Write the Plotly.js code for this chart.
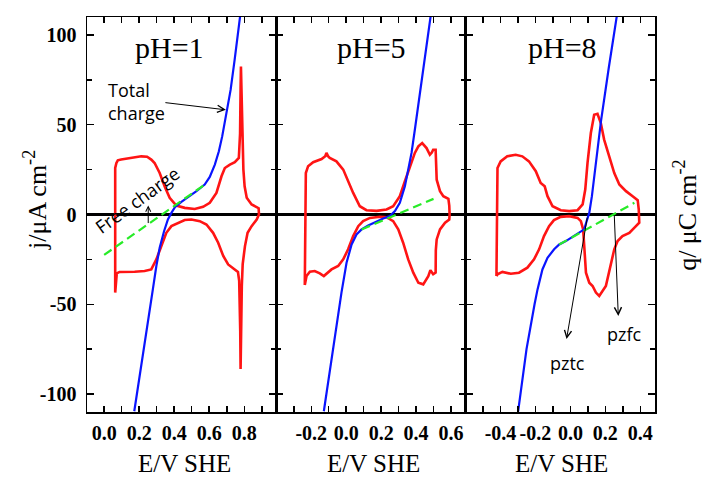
<!DOCTYPE html>
<html>
<head>
<meta charset="utf-8">
<script src="https://cdn.plot.ly/plotly-3.0.1.min.js"></script>
<style>html,body{margin:0;padding:0;background:#fff;}#chart{width:704px;height:479px;}</style>
</head>
<body>
<div id="chart"></div>
<script>
// ---------- DATA ----------
// pH = 1
const p1RedX = [0.063,0.063,0.070,0.078,0.097,0.155,0.212,0.245,0.269,0.288,0.317,0.345,0.374,0.412,0.460,0.517,0.565,0.603,0.641,0.670,0.689,0.718,0.746,0.769,0.776,0.779,0.781,0.784,0.789,0.795,0.802,0.814,0.842,0.871,0.882,0.884,
                0.880,0.871,0.842,0.819,0.804,0.791,0.786,0.782,0.779,0.777,0.775,0.771,0.764,0.746,0.708,0.680,0.651,0.622,0.584,0.546,0.498,0.460,0.422,0.384,0.355,0.326,0.298,0.269,0.231,0.174,0.116,0.088,0.072,0.066,0.063];
const p1RedY = [-43.5,26.0,28.7,30.2,30.6,31.5,32.4,32.2,30.6,28.7,23.1,15.7,9.3,5.0,3.7,3.1,4.3,6.5,12.0,21.3,25.9,27.8,29.1,31.5,45,70,82.4,70,45,25,15.7,9.3,5.6,4.3,3.5,0,
                -1.0,-2.8,-6.5,-10.2,-17.6,-27.6,-40,-65,-86.1,-65,-47,-37,-32,-30.6,-27.8,-23.1,-15.7,-10.2,-5.6,-3.7,-2.8,-3.1,-4.6,-6.5,-10.2,-17.6,-25.0,-30.6,-31.5,-31.9,-32.0,-32.0,-32.8,-38,-43.5];
const p1BlueX = [0.172,0.210,0.250,0.278,0.298,0.317,0.342,0.364,0.384,0.406,0.441,0.479,0.527,0.574,0.603,0.632,0.655,0.674,0.690,0.722,0.745,0.764,0.776];
const p1BlueY = [-109.6,-84.3,-58.3,-41.7,-28.7,-18.5,-9.3,-2.8,0.9,4.3,7.0,9.6,13.0,16.7,20.9,27.8,35.2,43.5,52.8,69.4,86.1,100.9,110.2];
const p1GreenX = [0.0,0.575];
const p1GreenY = [-22.5,16.7];

// pH = 5
const p2RedX = [-0.237,-0.233,-0.231,-0.218,-0.189,-0.141,-0.120,-0.113,-0.104,-0.094,-0.056,-0.017,0.011,0.040,0.078,0.116,0.174,0.231,0.269,0.307,0.336,0.365,0.393,0.413,0.435,0.460,0.479,0.490,0.498,0.512,0.515,0.518,0.537,0.556,0.585,0.590,0.592,
                0.590,0.566,0.537,0.518,0.513,0.512,0.498,0.482,0.470,0.441,0.413,0.384,0.355,0.326,0.298,0.269,0.231,0.193,0.136,0.097,0.069,0.040,0.011,-0.017,-0.046,-0.084,-0.113,-0.128,-0.151,-0.180,-0.208,-0.227,-0.237];
const p2RedY = [-39.3,0,23.1,26.9,29.1,30.9,32.5,34.3,32.5,31.5,29.6,25.0,18.5,12.0,4.6,2.4,2.0,2.8,4.6,10.2,18.5,26.9,34.3,38.0,39.8,37.0,33.3,34.5,36.1,36.1,28,19.4,13.0,10.2,8.7,5,0,
                -2.8,-4.6,-8.3,-13.9,-20,-32.4,-33.3,-31.0,-34.3,-38.9,-38.0,-32.4,-25.0,-15.7,-8.3,-3.7,-1.5,-1.3,-1.9,-3.7,-6.5,-12.0,-19.4,-25.0,-28.7,-30.6,-32.8,-34.3,-32.8,-31.5,-31.9,-34.3,-39.3];
const p2BlueX = [-0.128,-0.052,-0.027,0.002,0.031,0.059,0.088,0.126,0.174,0.212,0.250,0.279,0.307,0.336,0.355,0.374,0.393,0.440,0.483];
const p2BlueY = [-109.6,-58.3,-43.5,-26.9,-16.7,-11.1,-8.3,-6.1,-3.7,-2.2,-0.9,1.9,6.5,15.7,25.0,34.3,47.2,80.0,110.2];
const p2GreenX = [0.088,0.500];
const p2GreenY = [-8.3,8.7];

// pH = 8
const p3RedX = [-0.423,-0.420,-0.417,-0.399,-0.361,-0.313,-0.275,-0.237,-0.198,-0.170,-0.160,-0.147,-0.131,-0.102,-0.055,-0.007,0.041,0.070,0.085,0.098,0.117,0.136,0.155,0.174,0.193,0.222,0.251,0.280,0.318,0.356,0.385,0.391,0.394,
                0.375,0.337,0.298,0.270,0.251,0.232,0.203,0.165,0.146,0.127,0.108,0.089,0.079,0.073,0.060,0.041,-0.007,-0.055,-0.094,-0.122,-0.151,-0.179,-0.208,-0.246,-0.294,-0.341,-0.389,-0.417,-0.423];
const p3RedY = [-34.3,0,25.9,29.6,32.4,33.3,32.4,29.6,24.1,17.6,16.7,15.7,10.2,4.6,2.4,1.9,2.4,5.6,13.9,28.7,45.4,55.6,56.1,50.9,41.7,32.4,23.1,16.7,13.0,10.2,8.0,2.8,-4.6,
                -6.5,-10.2,-12.0,-14.8,-19.4,-26.9,-39.8,-45.4,-43.5,-39.8,-38.0,-32.4,-15.7,-8.3,-3.7,-1.9,-0.9,-1.3,-3.1,-6.5,-12.0,-19.4,-25.0,-29.6,-32.4,-33.0,-32.0,-33.3,-34.3];
const p3BlueX = [-0.299,-0.251,-0.205,-0.188,-0.160,-0.131,-0.093,-0.064,-0.026,0.012,0.060,0.079,0.093,0.108,0.123,0.137,0.156,0.175,0.220,0.265];
const p3BlueY = [-109.6,-75.0,-50.0,-41.7,-30.6,-24.1,-19.4,-16.7,-14.8,-12.6,-9.8,-8.3,-3.7,0.9,10.2,21.3,36.1,52.0,82.0,110.2];
const p3GreenX = [-0.064,0.366];
const p3GreenY = [-16.7,6.5];

// ticks
const p1XTicks = [0,0.2,0.4,0.6,0.8];
const p1XTickText = ['0.0','0.2','0.4','0.6','0.8'];
const p2XTicks = [-0.2,0,0.2,0.4,0.6];
const p2XTickText = ['-0.2','0.0','0.2','0.4','0.6'];
const p3XTicks = [-0.4,-0.2,0,0.2,0.4];
const p3XTickText = ['-0.4','-0.2','0.0','0.2','0.4'];
const yTicks = [-100,-50,0,50,100];
const yTickText = ['-100','-50','0','50','100'];
const panelLabels = ['pH=1','pH=5','pH=8'];

// ---------- STYLE ----------
const RED = 'rgb(255,20,20)', BLUE = 'rgb(10,20,255)', GREEN = 'rgb(40,235,40)';
const serif = 'Liberation Serif';
const sans = 'Open Sans';

function red(x,y,xa,ya){return {x:x,y:y,xaxis:xa,yaxis:ya,mode:'lines',line:{color:RED,width:2.6},hoverinfo:'skip'};}
function blue(x,y,xa,ya){return {x:x,y:y,xaxis:xa,yaxis:ya,mode:'lines',line:{color:BLUE,width:2.2},hoverinfo:'skip'};}
function green(x,y,xa,ya){return {x:x,y:y,xaxis:xa,yaxis:ya,mode:'lines',line:{color:GREEN,width:2.2,dash:'9px,5px'},hoverinfo:'skip'};}

const data = [
  red(p1RedX,p1RedY,'x','y'), blue(p1BlueX,p1BlueY,'x','y'), green(p1GreenX,p1GreenY,'x','y'),
  red(p2RedX,p2RedY,'x2','y2'), blue(p2BlueX,p2BlueY,'x2','y2'), green(p2GreenX,p2GreenY,'x2','y2'),
  red(p3RedX,p3RedY,'x3','y3'), blue(p3BlueX,p3BlueY,'x3','y3'), green(p3GreenX,p3GreenY,'x3','y3')
];

const tickFont = {family:serif, size:20, color:'black', weight:'bold'};

function xax(domain, range, vals, text, anchor){
  return {domain:domain, range:range, anchor:anchor, tickmode:'array', tickvals:vals, ticktext:text,
    ticks:'inside', ticklen:6, tickwidth:1.5, tickcolor:'black', showline:true, linecolor:'black', linewidth:1.5,
    mirror:'ticks', showgrid:false, zeroline:false, tickangle:0, ticklabelstandoff:2,
    tickfont:tickFont,
    minor:{tickmode:'linear', tick0:0, dtick:0.1, ticks:'inside', ticklen:6, tickwidth:1.5, tickcolor:'black', showgrid:false}};
}
function yax(anchor, labels){
  return {domain:[0,1], range:[-110,110], anchor:anchor, tickmode:'array', tickvals:yTicks, ticktext:yTickText,
    showticklabels:labels, ticks:'inside', ticklen:7, tickwidth:1.5, tickcolor:'black', showline:true, linecolor:'black', linewidth:1.5,
    mirror:'ticks', showgrid:false, zeroline:true, zerolinecolor:'black', zerolinewidth:2.5, ticklabelstandoff:5,
    tickfont:tickFont,
    minor:{tickmode:'linear', tick0:0, dtick:25, ticks:'inside', ticklen:5, tickwidth:1.5, tickcolor:'black', showgrid:false}};
}

const arrowCommon = {text:'', showarrow:true, arrowhead:5, arrowsize:1.4, arrowwidth:1, arrowcolor:'black', standoff:0, startstandoff:0};
const titleFont = {family:serif, size:25, color:'black'};

const annotations = [
  {text:panelLabels[0], xref:'paper', yref:'paper', x:0.1447, y:0.924, xanchor:'center', yanchor:'middle', showarrow:false, font:{family:serif, size:30, color:'black'}},
  {text:panelLabels[1], xref:'paper', yref:'paper', x:0.5012, y:0.924, xanchor:'center', yanchor:'middle', showarrow:false, font:{family:serif, size:30, color:'black'}},
  {text:panelLabels[2], xref:'paper', yref:'paper', x:0.8371, y:0.924, xanchor:'center', yanchor:'middle', showarrow:false, font:{family:serif, size:30, color:'black'}},
  {text:'E/V SHE', xref:'paper', yref:'paper', x:0.171, y:-0.130, xanchor:'center', yanchor:'middle', showarrow:false, font:titleFont},
  {text:'E/V SHE', xref:'paper', yref:'paper', x:0.505, y:-0.130, xanchor:'center', yanchor:'middle', showarrow:false, font:titleFont},
  {text:'E/V SHE', xref:'paper', yref:'paper', x:0.836, y:-0.130, xanchor:'center', yanchor:'middle', showarrow:false, font:titleFont},
  {text:'j/\u03bcA cm<sup>-2</sup>', xref:'paper', yref:'paper', x:-0.0898, y:0.537, xanchor:'center', yanchor:'middle', textangle:-90, showarrow:false, font:{family:serif, size:26, color:'black'}},
  {text:'q/ \u03bcC cm<sup>-2</sup>', xref:'paper', yref:'paper', x:1.0545, y:0.499, xanchor:'center', yanchor:'middle', textangle:-90, showarrow:false, font:{family:serif, size:26, color:'black'}},
  {text:'Total<br>charge', xref:'paper', yref:'paper', x:0.0335, y:0.787, xanchor:'left', yanchor:'middle', align:'left', showarrow:false, font:{family:sans, size:18, color:'black'}},
  {text:'Free charge', xref:'paper', yref:'paper', x:0.088, y:0.537, xanchor:'center', yanchor:'middle', textangle:-36, showarrow:false, font:{family:sans, size:18, color:'black'}},
  {text:'pztc', xref:'paper', yref:'paper', x:0.846, y:0.125, xanchor:'center', yanchor:'middle', showarrow:false, font:{family:sans, size:18, color:'black'}},
  {text:'pzfc', xref:'paper', yref:'paper', x:0.9467, y:0.197, xanchor:'center', yanchor:'middle', showarrow:false, font:{family:sans, size:18, color:'black'}},
  Object.assign({xref:'x', yref:'y', axref:'x', ayref:'y', x:0.695, y:58.3, ax:0.341, ay:62.4}, arrowCommon),
  Object.assign({xref:'x', yref:'y', axref:'x', ayref:'y', x:0.2516, y:5.0, ax:0.2516, ay:-5.6}, arrowCommon, {arrowsize:1}),
  Object.assign({xref:'x3', yref:'y3', axref:'x3', ayref:'y3', x:-0.022, y:-69.4, ax:0.098, ay:-0.9}, arrowCommon),
  Object.assign({xref:'x3', yref:'y3', axref:'x3', ayref:'y3', x:0.274, y:-56.5, ax:0.251, ay:0}, arrowCommon)
];

const layout = {
  width:704, height:479,
  margin:{l:87, r:49, t:17, b:67},
  paper_bgcolor:'white', plot_bgcolor:'white',
  showlegend:false,
  xaxis: xax([0,0.3333], [-0.098,0.983], p1XTicks, p1XTickText, 'y'),
  xaxis2: xax([0.3333,0.6667], [-0.400,0.684], p2XTicks, p2XTickText, 'y2'),
  xaxis3: xax([0.6667,1], [-0.599,0.484], p3XTicks, p3XTickText, 'y3'),
  yaxis: yax('x', true),
  yaxis2: yax('x2', false),
  yaxis3: yax('x3', false),
  annotations: annotations
};

Plotly.newPlot('chart', data, layout, {staticPlot:true, displayModeBar:false});
</script>
</body>
</html>
